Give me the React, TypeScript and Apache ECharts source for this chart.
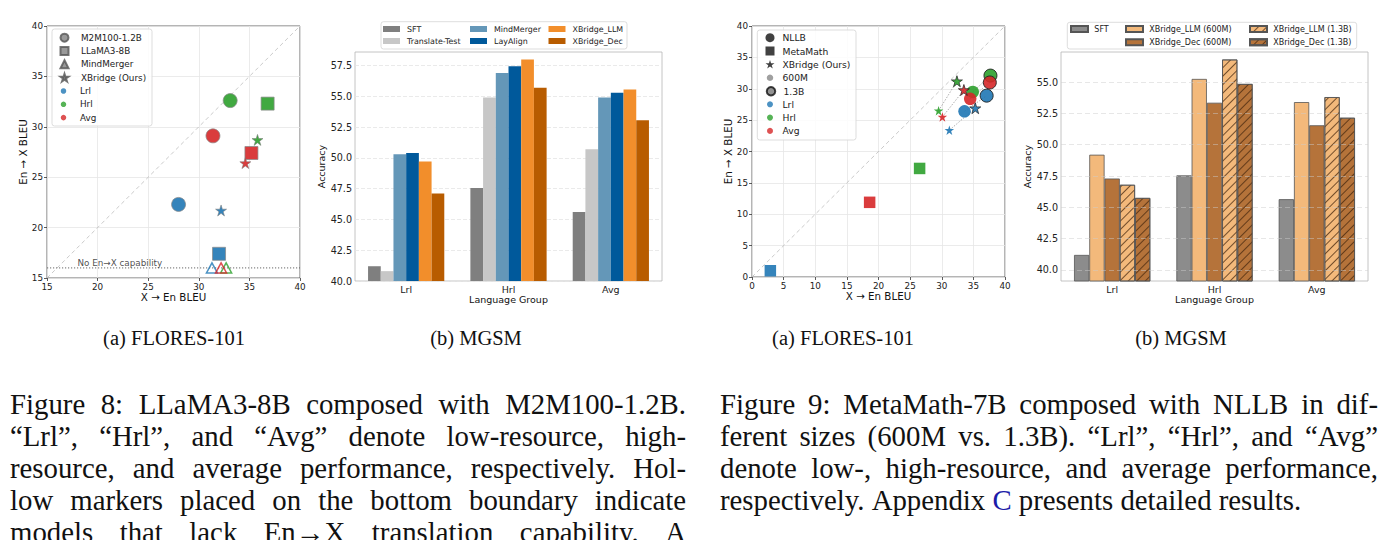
import React, { useEffect, useRef } from 'react';
import * as echarts from 'echarts';

// ---------------- data ----------------
const LANGS = ['Lrl', 'Hrl', 'Avg'];
const LANG_COLORS = ['#1f77b4', '#2ca02c', '#d62728'];

// Figure 8 (a) FLORES-101  (order: Lrl, Hrl, Avg)
const m2mX = [28.0, 33.1, 31.4];
const m2mY = [22.3, 32.6, 29.1];
const llamaX = [32.0, 36.8, 35.2];
const llamaY = [17.4, 32.3, 27.4];
const mindMergerX = [31.3, 32.7, 32.2];
const mindMergerY = [16.0, 16.0, 16.0];
const xbridge8X = [32.2, 35.8, 34.6];
const xbridge8Y = [21.7, 28.7, 26.4];
const noCapLevel = 16;

// Figure 8 (b) MGSM
const groups = ['Lrl', 'Hrl', 'Avg'];
const sft8 = [41.2, 47.55, 45.6];
const translateTest8 = [40.8, 54.9, 50.7];
const mindMerger8 = [50.3, 56.9, 54.9];
const layAlign8 = [50.4, 57.45, 55.3];
const xbridgeLLM8 = [49.7, 58.0, 55.55];
const xbridgeDec8 = [47.1, 55.7, 53.05];
const yTicks8b = [40, 42.5, 45, 47.5, 50, 52.5, 55, 57.5];

// Figure 9 (a) FLORES-101
const nllb600X = [33.6, 34.9, 34.5];
const nllb600Y = [26.4, 29.5, 28.4];
const nllb13X = [37.1, 37.7, 37.6];
const nllb13Y = [28.9, 32.1, 31.0];
const metaMathX = [2.9, 26.5, 18.6];
const metaMathY = [1.0, 17.3, 11.9];
const xb600X = [31.2, 29.5, 30.1];
const xb600Y = [23.4, 26.5, 25.5];
const xb13X = [35.3, 32.4, 33.5];
const xb13Y = [26.9, 31.2, 29.8];

// Figure 9 (b) MGSM
const sft9 = [41.2, 47.55, 45.65];
const xbLLM600 = [49.2, 55.25, 53.4];
const xbDec600 = [47.3, 53.35, 51.55];
const xbLLM13 = [46.8, 56.8, 53.8];
const xbDec13 = [45.75, 54.85, 52.15];
const yTicks9b = [40, 42.5, 45, 47.5, 50, 52.5, 55];

// captions
const SUBCAPS = ['(a) FLORES-101', '(b) MGSM', '(a) FLORES-101', '(b) MGSM'];
const CAPTION8 = [
  'Figure 8: LLaMA3-8B composed with M2M100-1.2B.',
  '“Lrl”, “Hrl”, and “Avg” denote low-resource, high-',
  'resource, and average performance, respectively. Hol-',
  'low markers placed on the bottom boundary indicate',
  'models that lack En→X translation capability. A',
];
const CAPTION9 = [
  'Figure 9: MetaMath-7B composed with NLLB in dif-',
  'ferent sizes (600M vs. 1.3B). “Lrl”, “Hrl”, and “Avg”',
  'denote low-, high-resource, and average performance,',
  'respectively. Appendix C presents detailed results.',
];

const LABEL: Record<string, string> = {
  a_m2m: 'M2M100-1.2B', a_llama: 'LLaMA3-8B', a_mind: 'MindMerger', a_xb: 'XBridge (Ours)',
  a_lrl: 'Lrl', a_hrl: 'Hrl', a_avg: 'Avg',
  b_sft: 'SFT', b_tt: 'Translate-Test', b_mm: 'MindMerger', b_la: 'LayAlign', b_xbl: 'XBridge_LLM', b_xbd: 'XBridge_Dec',
  c_nllb: 'NLLB', c_mm: 'MetaMath', c_xb: 'XBridge (Ours)', c_600: '600M', c_13: '1.3B',
  c_lrl: 'Lrl', c_hrl: 'Hrl', c_avg: 'Avg',
  d_sft: 'SFT', d_l600: 'XBridge_LLM (600M)', d_d600: 'XBridge_Dec (600M)', d_l13: 'XBridge_LLM (1.3B)', d_d13: 'XBridge_Dec (1.3B)',
};

// ---------------- styling helpers ----------------
const F = '"DejaVu Sans", Verdana, sans-serif';
const SERIF = '"Liberation Serif", "Times New Roman", serif';
const STAR = 'path://M0,-100L22.45,-30.9L95.1,-30.9L36.3,11.8L58.8,80.9L0,38.2L-58.8,80.9L-36.3,11.8L-95.1,-30.9L-22.45,-30.9Z';

function pts(xs: number[], ys: number[], style: (i: number) => any) {
  return xs.map((x, i) => ({ value: [x, ys[i]], itemStyle: style(i) }));
}

function scatterX(gi: number, min: number, max: number) {
  return {
    type: 'value', gridIndex: gi, min, max, interval: 5,
    name: 'X → En BLEU', nameLocation: 'middle', nameGap: 11.5,
    nameTextStyle: { fontFamily: F, fontSize: 10.3, color: '#111' },
    axisLine: { show: false },
    axisTick: { show: true, length: 3, lineStyle: { color: '#333', width: 0.8 } },
    axisLabel: { fontFamily: F, fontSize: 8.8, color: '#222', margin: 4 },
    splitLine: { show: true, lineStyle: { color: '#e6e6e6', width: 0.8 } },
  };
}
function scatterY(gi: number, min: number, max: number, gap: number) {
  return {
    type: 'value', gridIndex: gi, min, max, interval: 5,
    name: 'En → X BLEU', nameLocation: 'middle', nameGap: gap,
    nameTextStyle: { fontFamily: F, fontSize: 10.3, color: '#111' },
    axisLine: { show: false },
    axisTick: { show: true, length: 3, lineStyle: { color: '#333', width: 0.8 } },
    axisLabel: { fontFamily: F, fontSize: 8.8, color: '#222', margin: 4 },
    splitLine: { show: true, lineStyle: { color: '#e6e6e6', width: 0.8 } },
  };
}
function catX(gi: number) {
  return {
    type: 'category', gridIndex: gi, data: groups,
    name: 'Language Group', nameLocation: 'middle', nameGap: 13,
    nameTextStyle: { fontFamily: F, fontSize: 9.5, color: '#111' },
    axisLine: { show: false }, axisTick: { show: false },
    axisLabel: { fontFamily: F, fontSize: 9.5, color: '#222', margin: 3, interval: 0 },
    splitLine: { show: false },
  };
}
function barY(gi: number, min: number, max: number, ticks: number[], grid: any, z?: number) {
  const o: any = {
    type: 'value', gridIndex: gi, min, max,
    name: 'Accuracy', nameLocation: 'middle', nameGap: 25,
    nameTextStyle: { fontFamily: F, fontSize: 9.5, color: '#111' },
    axisLine: { show: false },
    axisTick: { show: false, customValues: ticks },
    axisLabel: { fontFamily: F, fontSize: 9.6, color: '#222', margin: 3, customValues: ticks, formatter: (v: number) => v.toFixed(1) },
    splitLine: { show: true, lineStyle: grid },
  };
  if (z !== undefined) o.z = z;
  return o;
}

// icon centred at cx, text starting at tx
function legend(cx: number, top: number, names: string[], iw: number, ih: number, tx: number,
  fs: number, lh: number, gap: number, icon?: string) {
  const left = cx - iw / 2;
  const pad = Math.max(0, tx - (left + iw + 5));
  return {
    orient: 'vertical', left, top, padding: 0, itemGap: gap, itemWidth: iw, itemHeight: ih,
    symbolKeepAspect: true, selectedMode: false,
    data: names.map((n) => (icon ? { name: n, icon } : { name: n })),
    formatter: (n: string) => LABEL[n],
    textStyle: { fontFamily: F, fontSize: fs, color: '#222', lineHeight: lh, padding: [0, 0, 0, pad] },
  };
}

function frame(x: number, y: number, w: number, h: number) {
  return {
    type: 'rect', z: 3, shape: { x, y, width: w, height: h, r: 2.5 },
    style: { fill: 'rgba(255,255,255,0.85)', stroke: '#d4d4d4', lineWidth: 0.8 },
  };
}

function captionEls(lines: string[], x0: number, x1: number, y0: number, dy: number, size: number, justifyLast: boolean) {
  const cv = document.createElement('canvas');
  const ctx = cv.getContext('2d') as CanvasRenderingContext2D;
  ctx.font = `${size}px "Liberation Serif"`;
  const space = ctx.measureText(' ').width;
  const els: any[] = [];
  lines.forEach((line, li) => {
    const words = line.split(' ');
    const widths = words.map((w) => ctx.measureText(w).width);
    const total = widths.reduce((a, b) => a + b, 0);
    const justify = li < lines.length - 1 || justifyLast;
    const gap = justify && words.length > 1 ? (x1 - x0 - total) / (words.length - 1) : space;
    let x = x0;
    words.forEach((w, i) => {
      els.push({
        type: 'text', x, y: y0 + li * dy, silent: true,
        style: {
          text: w, fontFamily: SERIF, fontSize: size,
          fill: w === 'C' ? '#1c1ca8' : '#111', textAlign: 'left', textVerticalAlign: 'middle',
        },
      });
      x += widths[i] + gap;
    });
  });
  return els;
}

function buildOption() {
  const hatch = {
    symbol: 'rect', symbolSize: 1, color: 'rgba(70,40,15,0.75)',
    dashArrayX: [1, 0], dashArrayY: [1, 5], rotation: -Math.PI / 4,
  };
  const barGrid = { color: '#e4e4e4', width: 0.8, type: [4, 2] };
  const barGrid9 = { color: 'rgba(205,205,205,0.6)', width: 0.8, type: [5, 3] };

  const series: any[] = [];
  // ---- chart 1 (grid 0) ----
  series.push({ type: 'line', xAxisIndex: 0, yAxisIndex: 0, data: [[15, 15], [40, 40]], symbol: 'none', silent: true,
    lineStyle: { color: '#bdbdbd', width: 0.8, type: [4, 3] }, z: 1 });
  series.push({ type: 'line', xAxisIndex: 0, yAxisIndex: 0, data: [[15, noCapLevel], [40, noCapLevel]], symbol: 'none', silent: true,
    lineStyle: { color: '#555', width: 0.9, type: [1.2, 1.8] }, z: 1 });
  series.push({ type: 'scatter', xAxisIndex: 0, yAxisIndex: 0, data: [[18.0, 16.45]], symbolSize: 0.1, silent: true,
    label: { show: true, position: 'right', distance: 0, formatter: 'No En→X capability', fontFamily: F, fontSize: 8.8, color: '#222' } });
  series.push({ type: 'scatter', name: 'p_m2m', xAxisIndex: 0, yAxisIndex: 0, symbol: 'circle', symbolSize: 14, z: 3,
    data: pts(m2mX, m2mY, (i) => ({ color: LANG_COLORS[i], borderColor: '#888', borderWidth: 0.8, opacity: 0.9 })) });
  series.push({ type: 'scatter', name: 'p_llama', xAxisIndex: 0, yAxisIndex: 0, symbol: 'rect', symbolSize: 13, z: 3,
    data: pts(llamaX, llamaY, (i) => ({ color: LANG_COLORS[i], borderColor: '#888', borderWidth: 0.8, opacity: 0.9 })) });
  series.push({ type: 'scatter', name: 'p_mind', xAxisIndex: 0, yAxisIndex: 0, symbol: 'triangle', symbolSize: [11, 10], z: 3,
    data: pts(mindMergerX, mindMergerY, (i) => ({ color: 'rgba(255,255,255,0)', borderColor: LANG_COLORS[i], borderWidth: 1.5 })) });
  series.push({ type: 'scatter', name: 'p_xb', xAxisIndex: 0, yAxisIndex: 0, symbol: STAR, symbolSize: 11, z: 3,
    data: pts(xbridge8X, xbridge8Y, (i) => ({ color: LANG_COLORS[i], borderColor: '#777', borderWidth: 0.6, opacity: 0.9 })) });
  // legend dummies chart 1
  const gray = { color: '#808080', borderColor: '#555', borderWidth: 0.8 };
  const dummy = (name: string, gi: number, symbol: string, itemStyle: any) =>
    series.push({ type: 'scatter', name, xAxisIndex: gi, yAxisIndex: gi, symbol, symbolKeepAspect: true, data: [], itemStyle });
  dummy('a_m2m', 0, 'circle', gray);
  dummy('a_llama', 0, 'rect', gray);
  dummy('a_mind', 0, 'triangle', gray);
  dummy('a_xb', 0, STAR, gray);
  ['a_lrl', 'a_hrl', 'a_avg'].forEach((n, i) => dummy(n, 0, 'circle', { color: LANG_COLORS[i] }));

  // ---- chart 2 (grid 1) ----
  const bars8: [string, number[], string][] = [
    ['b_sft', sft8, '#7f7f7f'], ['b_tt', translateTest8, '#c7c7c7'], ['b_mm', mindMerger8, '#6497b8'],
    ['b_la', layAlign8, '#00599b'], ['b_xbl', xbridgeLLM8, '#f28e2b'], ['b_xbd', xbridgeDec8, '#b85c00'],
  ];
  bars8.forEach(([n, d, c]) => series.push({ type: 'bar', name: n, xAxisIndex: 1, yAxisIndex: 1, data: d,
    barGap: '0%', barCategoryGap: '25.5%', itemStyle: { color: c } }));

  // ---- chart 3 (grid 2) ----
  series.push({ type: 'line', xAxisIndex: 2, yAxisIndex: 2, data: [[0, 0], [40, 40]], symbol: 'none', silent: true,
    lineStyle: { color: '#bdbdbd', width: 0.8, type: [4, 3] }, z: 1 });
  const pairs: [number[], number[], number[], number[]][] = [[xb600X, xb600Y, xb13X, xb13Y], [nllb600X, nllb600Y, nllb13X, nllb13Y]];
  pairs.forEach(([ax, ay, bx, by]) => LANGS.forEach((_, i) => series.push({
    type: 'line', xAxisIndex: 2, yAxisIndex: 2, data: [[ax[i], ay[i]], [bx[i], by[i]]], symbol: 'none', silent: true,
    lineStyle: { color: '#9a9a9a', width: 0.8, type: [1.5, 1.5] }, z: 1,
  })));
  series.push({ type: 'scatter', name: 'q_mm', xAxisIndex: 2, yAxisIndex: 2, symbol: 'rect', symbolSize: 11.5, z: 3,
    data: pts(metaMathX, metaMathY, (i) => ({ color: LANG_COLORS[i], opacity: 0.9 })) });
  series.push({ type: 'scatter', name: 'q_n600', xAxisIndex: 2, yAxisIndex: 2, symbol: 'circle', symbolSize: 12.5, z: 3,
    data: pts(nllb600X, nllb600Y, (i) => ({ color: LANG_COLORS[i], opacity: 0.9 })) });
  series.push({ type: 'scatter', name: 'q_n13', xAxisIndex: 2, yAxisIndex: 2, symbol: 'circle', symbolSize: 13, z: 3,
    data: pts(nllb13X, nllb13Y, (i) => ({ color: LANG_COLORS[i], borderColor: '#222', borderWidth: 1, opacity: 0.9 })) });
  series.push({ type: 'scatter', name: 'q_x600', xAxisIndex: 2, yAxisIndex: 2, symbol: STAR, symbolSize: 9.5, z: 3,
    data: pts(xb600X, xb600Y, (i) => ({ color: LANG_COLORS[i], opacity: 0.9 })) });
  series.push({ type: 'scatter', name: 'q_x13', xAxisIndex: 2, yAxisIndex: 2, symbol: STAR, symbolSize: 11, z: 3,
    data: pts(xb13X, xb13Y, (i) => ({ color: LANG_COLORS[i], borderColor: '#222', borderWidth: 0.8, opacity: 0.9 })) });
  const blk = { color: '#111' };
  dummy('c_nllb', 2, 'circle', blk);
  dummy('c_mm', 2, 'rect', blk);
  dummy('c_xb', 2, STAR, blk);
  dummy('c_600', 2, 'circle', { color: '#888' });
  dummy('c_13', 2, 'circle', { color: '#777', borderColor: '#111', borderWidth: 1 });
  ['c_lrl', 'c_hrl', 'c_avg'].forEach((n, i) => dummy(n, 2, 'circle', { color: LANG_COLORS[i] }));

  // ---- chart 4 (grid 3) ----
  const edge = { borderColor: '#555', borderWidth: 0.8 };
  const bars9: [string, number[], string, boolean][] = [
    ['d_sft', sft9, '#8c8c8c', false], ['d_l600', xbLLM600, '#f3b97b', false], ['d_d600', xbDec600, '#b5733a', false],
    ['d_l13', xbLLM13, '#f3b97b', true], ['d_d13', xbDec13, '#b5733a', true],
  ];
  bars9.forEach(([n, d, c, h]) => series.push({ type: 'bar', name: n, xAxisIndex: 3, yAxisIndex: 3, data: d,
    barGap: '0%', barCategoryGap: '25.5%', itemStyle: h ? { color: c, ...edge, decal: hatch } : { color: c, ...edge } }));

  const graphic: any[] = [
    frame(52, 29, 100, 97),
    frame(381, 21.7, 246, 27.3),
    frame(757.3, 30, 98.7, 110),
    frame(1067.3, 22.3, 289.4, 26.7),
  ];
  const subX = [174, 476, 843, 1181];
  SUBCAPS.forEach((t, i) => graphic.push({ type: 'text', x: subX[i], y: 338, silent: true,
    style: { text: t, fontFamily: SERIF, fontSize: 20.5, fill: '#111', textAlign: 'center', textVerticalAlign: 'middle' } }));
  graphic.push(...captionEls(CAPTION8, 10, 686, 404, 32, 28.8, true));
  graphic.push(...captionEls(CAPTION9, 720, 1378, 404, 32, 28.8, false));

  return {
    animation: false,
    backgroundColor: '#ffffff',
    grid: [
      { left: 47, top: 26, width: 253, height: 252, show: true, borderColor: '#444', borderWidth: 0.8, backgroundColor: 'transparent' },
      { left: 355, top: 52, width: 307, height: 229, show: true, borderColor: '#b5b5b5', borderWidth: 0.8, backgroundColor: 'transparent' },
      { left: 752, top: 26, width: 253, height: 251, show: true, borderColor: '#444', borderWidth: 0.8, backgroundColor: 'transparent' },
      { left: 1061, top: 52, width: 307, height: 229, show: true, borderColor: '#b5b5b5', borderWidth: 0.8, backgroundColor: 'transparent' },
    ],
    xAxis: [scatterX(0, 15, 40), catX(1), scatterX(2, 0, 40), catX(3)],
    yAxis: [
      scatterY(0, 15, 40, 18),
      barY(1, 40, 58.6, yTicks8b, barGrid),
      scatterY(2, 0, 40, 17),
      barY(3, 39.12, 57.4, yTicks9b, barGrid9, 5),
    ],
    legend: [
      legend(63.5, 32.7, ['a_m2m', 'a_llama', 'a_mind', 'a_xb'], 8, 8, 80, 8.8, 10, 3.3),
      legend(63.5, 86, ['a_lrl', 'a_hrl', 'a_avg'], 5.5, 5.5, 80, 8.8, 10, 3.3),
      legend(391.5, 24.5, ['b_sft', 'b_tt'], 17, 6, 407, 7.9, 9, 3, 'rect'),
      legend(478.5, 24.5, ['b_mm', 'b_la'], 17, 6, 494, 7.9, 9, 3, 'rect'),
      legend(557, 24.5, ['b_xbl', 'b_xbd'], 17, 6, 572.5, 7.9, 9, 3, 'rect'),
      legend(770, 32.7, ['c_nllb', 'c_mm', 'c_xb'], 9, 9, 782.5, 9.2, 10, 3.3),
      legend(770, 72.7, ['c_600'], 6.5, 6.5, 782.5, 9.2, 10, 3.3),
      legend(770, 86, ['c_13'], 8.5, 8.5, 782.5, 9.2, 10, 3.3),
      legend(770, 99.3, ['c_lrl', 'c_hrl', 'c_avg'], 6, 6, 782.5, 9.2, 10, 3.3),
      legend(1078.5, 24.5, ['d_sft'], 17, 6, 1093.3, 8, 9, 4.3, 'rect'),
      legend(1133.5, 24.5, ['d_l600', 'd_d600'], 17, 6, 1148.3, 8, 9, 4.3, 'rect'),
      legend(1257.5, 24.5, ['d_l13', 'd_d13'], 17, 6, 1272.3, 8, 9, 4.3, 'rect'),
    ],
    graphic,
    series,
  };
}

export default function App() {
  const ref = useRef<HTMLDivElement>(null);
  useEffect(() => {
    if (!ref.current) return;
    const chart = echarts.init(ref.current, null, { renderer: 'svg' });
    chart.setOption(buildOption() as any);
    return () => chart.dispose();
  }, []);
  return (
    <div
      ref={ref}
      style={{ position: 'absolute', left: 0, top: 0, width: 1394, height: 540, background: '#fff' }}
    />
  );
}
